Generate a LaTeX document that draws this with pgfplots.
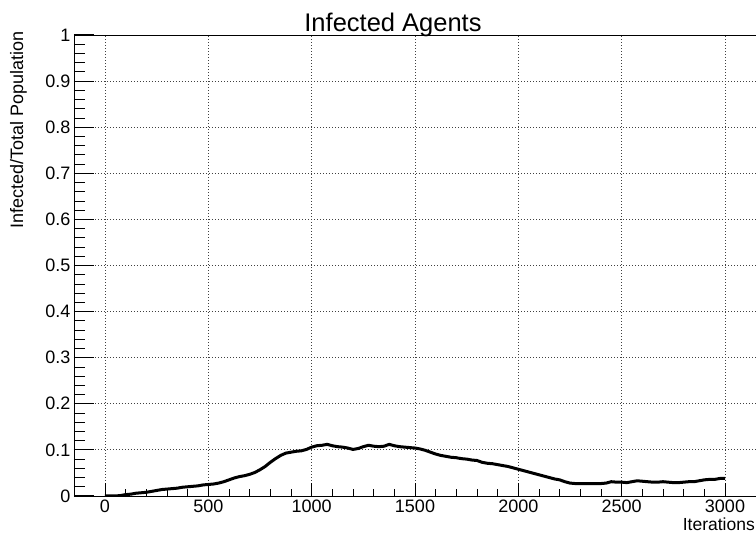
\documentclass[border=0pt]{standalone}
\usepackage{fontspec}
\setmainfont{Liberation Sans}
\usepackage{pgfplots}
\pgfplotsset{compat=1.18}

\pgfplotsset{
  rootframe/.style={
    scale only axis,
    width=682pt, height=461pt,
    xmin=-150, xmax=3150,
    ymin=0, ymax=1,
    tick align=inside,
    axis line style={draw=none},
    major tick style={black, line width=1pt},
    minor tick style={black, line width=0.8pt},
    /pgf/number format/assume math mode=true,
    /pgf/number format/set thousands separator={},
    ticklabel style={font=\fontsize{18}{21}\selectfont},
  }
}

\begin{document}
\begin{tikzpicture}
\path[use as bounding box] (-74pt,-38pt) rectangle (682pt,496pt);
% main axis: data, grid and y ticks
\begin{axis}[
    rootframe,
    xtick={0,500,1000,1500,2000,2500,3000},
    ytick={0,0.1,0.2,0.3,0.4,0.5,0.6,0.7,0.8,0.9,1},
    minor y tick num=4,
    ytick pos=left,
    xtick pos=bottom,
    major tick length=20pt,
    minor tick length=11pt,
    x tick style={draw=none},
    grid=major,
    grid style={black!75, line width=0.8pt, dash pattern=on 1pt off 2pt},
]
\addplot[black, line width=3pt, line join=round] coordinates {
(0,0.000)(25,0.000)(50,0.000)(75,0.001)(100,0.003)(125,0.004)(150,0.006)(175,0.007)
(200,0.008)(225,0.010)(250,0.012)(275,0.014)(300,0.015)(325,0.016)(350,0.017)(375,0.019)
(400,0.020)(425,0.021)(450,0.022)(475,0.024)(500,0.025)(525,0.026)(550,0.028)(575,0.031)
(600,0.035)(625,0.039)(650,0.042)(675,0.044)(700,0.047)(725,0.051)(750,0.057)(775,0.064)
(800,0.073)(825,0.081)(850,0.088)(875,0.093)(900,0.095)(925,0.097)(950,0.098)(975,0.101)
(1000,0.106)(1025,0.109)(1050,0.110)(1075,0.112)(1100,0.109)(1125,0.107)(1150,0.106)(1175,0.104)
(1200,0.101)(1225,0.103)(1250,0.107)(1275,0.110)(1300,0.108)(1325,0.107)(1350,0.108)(1375,0.112)
(1400,0.109)(1425,0.107)(1450,0.106)(1475,0.105)(1500,0.104)(1525,0.102)(1550,0.099)(1575,0.095)
(1600,0.091)(1625,0.088)(1650,0.086)(1675,0.084)(1700,0.083)(1725,0.081)(1750,0.080)(1775,0.078)
(1800,0.077)(1825,0.073)(1850,0.071)(1875,0.070)(1900,0.068)(1925,0.066)(1950,0.064)(1975,0.061)
(2000,0.058)(2025,0.055)(2050,0.052)(2075,0.049)(2100,0.046)(2125,0.043)(2150,0.040)(2175,0.037)
(2200,0.035)(2225,0.031)(2250,0.028)(2275,0.027)(2300,0.027)(2325,0.027)(2350,0.027)(2375,0.027)
(2400,0.027)(2425,0.028)(2450,0.031)(2475,0.030)(2500,0.030)(2525,0.029)(2550,0.031)(2575,0.033)
(2600,0.032)(2625,0.031)(2650,0.030)(2675,0.030)(2700,0.031)(2725,0.030)(2750,0.029)(2775,0.029)
(2800,0.030)(2825,0.031)(2850,0.031)(2875,0.033)(2900,0.035)(2925,0.036)(2950,0.036)(2975,0.038)
(3000,0.038)
};
\end{axis}
% second axis on the same frame: only the x ticks (shorter)
\begin{axis}[
    rootframe,
    xtick={0,500,1000,1500,2000,2500,3000},
    minor x tick num=4,
    ytick=\empty,
    xtick pos=bottom,
    xticklabels={},
    major tick length=13pt,
    minor tick length=7pt,
]
\end{axis}
% frame: left, bottom and top (right edge lies outside the picture)
\draw[black, line width=0.9pt] (682pt,461pt) -- (0pt,461pt) -- (0pt,0pt) -- (682pt,0pt);
\node[font=\fontsize{25.5}{30}\selectfont, anchor=base] at (319pt,464pt) {Infected Agents};
\node[font=\fontsize{18}{21}\selectfont, rotate=90, anchor=north east, inner sep=0pt] at (-64pt,465pt) {Infected/Total Population};
\node[font=\fontsize{17.5}{20}\selectfont, anchor=base east, inner sep=0pt] at (681pt,-35pt) {Iterations};
\end{tikzpicture}
\end{document}
